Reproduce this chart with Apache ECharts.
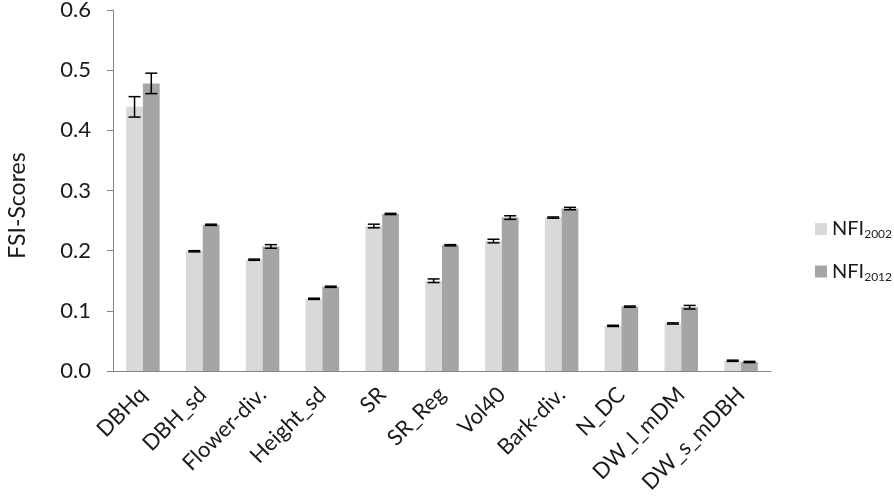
<!DOCTYPE html>
<html>
<head>
<meta charset="utf-8">
<script src="https://cdn.jsdelivr.net/npm/echarts@6/dist/echarts.min.js"></script>
<style>
html, body { margin: 0; padding: 0; background: #fff; }
#chart { width: 894px; height: 501px; }
</style>
</head>
<body>
<div id="chart"></div>
<script>
const categories = ['DBHq', 'DBH_sd', 'Flower-div.', 'Height_sd', 'SR', 'SR_Reg', 'Vol40', 'Bark-div.', 'N_DC', 'DW_l_mDM', 'DW_s_mDBH'];
const nfi2002 = [0.439, 0.199, 0.185, 0.120, 0.241, 0.150, 0.216, 0.255, 0.075, 0.079, 0.017];
const nfi2012 = [0.478, 0.243, 0.207, 0.140, 0.261, 0.209, 0.255, 0.270, 0.107, 0.106, 0.015];
const err2002 = [0.017, 0.001, 0.001, 0.001, 0.003, 0.003, 0.003, 0.001, 0.001, 0.001, 0.001];
const err2012 = [0.017, 0.001, 0.003, 0.001, 0.001, 0.001, 0.003, 0.002, 0.001, 0.003, 0.001];

const FONT = 'Lato';
const catGap = 0.44;

// error bar data: [category index, low, high, side]
const errData = [];
categories.forEach(function (c, i) {
    errData.push([i, nfi2002[i] - err2002[i], nfi2002[i] + err2002[i], -1]);
    errData.push([i, nfi2012[i] - err2012[i], nfi2012[i] + err2012[i], 1]);
});

function renderError(params, api) {
    const idx = api.value(0);
    const side = api.value(3);
    const band = api.size([1, 0])[0];
    const barW = band * (1 - catGap) / 2;
    const lo = api.coord([idx, api.value(1)]);
    const hi = api.coord([idx, api.value(2)]);
    const x = lo[0] + side * barW / 2;
    const cap = 6;
    const style = { stroke: '#000', lineWidth: 1.5 };
    return {
        type: 'group',
        children: [
            { type: 'line', shape: { x1: x, y1: lo[1], x2: x, y2: hi[1] }, style: style },
            { type: 'line', shape: { x1: x - cap, y1: lo[1], x2: x + cap, y2: lo[1] }, style: style },
            { type: 'line', shape: { x1: x - cap, y1: hi[1], x2: x + cap, y2: hi[1] }, style: style }
        ]
    };
}

const option = {
    animation: false,
    textStyle: { fontFamily: FONT },
    grid: { left: 113, right: 123, top: 10, bottom: 130, outerBoundsMode: 'none' },
    legend: {
        orient: 'vertical',
        left: 810,
        top: 214,
        itemWidth: 12,
        itemHeight: 12,
        itemGap: 21,
        icon: 'rect',
        data: ['NFI2002', 'NFI2012'],
        formatter: function (name) {
            return '{a|NFI}{b|' + name.slice(3) + '}';
        },
        textStyle: {
            rich: {
                a: { fontSize: 20, fontFamily: FONT, color: '#1a1a1a' },
                b: { fontSize: 12, fontFamily: FONT, color: '#1a1a1a', padding: [11, 0, 0, 0] }
            }
        }
    },
    xAxis: {
        type: 'category',
        data: categories,
        axisLine: { lineStyle: { color: '#868686', width: 1 } },
        axisTick: { length: 6, lineStyle: { color: '#868686' } },
        axisLabel: { rotate: 45, fontSize: 22, color: '#1a1a1a', margin: 20, interval: 0 }
    },
    yAxis: {
        type: 'value',
        min: 0,
        max: 0.6,
        interval: 0.1,
        name: 'FSI-Scores',
        nameLocation: 'middle',
        nameGap: 84,
        nameTextStyle: { fontSize: 23, color: '#1a1a1a', fontFamily: FONT, padding: [0, 30, 0, 0] },
        axisLine: { show: true, lineStyle: { color: '#868686', width: 1 } },
        axisTick: { show: true, length: 6, lineStyle: { color: '#868686' } },
        splitLine: { show: false },
        axisLabel: {
            fontSize: 22,
            color: '#1a1a1a',
            margin: 22,
            formatter: function (v) { return v.toFixed(1); }
        }
    },
    series: [
        {
            name: 'NFI2002',
            type: 'bar',
            data: nfi2002,
            barGap: '0%',
            barCategoryGap: (catGap * 100) + '%',
            itemStyle: { color: '#d9d9d9' }
        },
        {
            name: 'NFI2012',
            type: 'bar',
            data: nfi2012,
            itemStyle: { color: '#a5a5a5' }
        },
        {
            type: 'custom',
            renderItem: renderError,
            data: errData,
            encode: { x: 0, y: [1, 2] },
            z: 10
        }
    ]
};

const chart = echarts.init(document.getElementById('chart'));
chart.setOption(option);
window.addEventListener('resize', function () {
    chart.resize();
});
</script>
</body>
</html>
